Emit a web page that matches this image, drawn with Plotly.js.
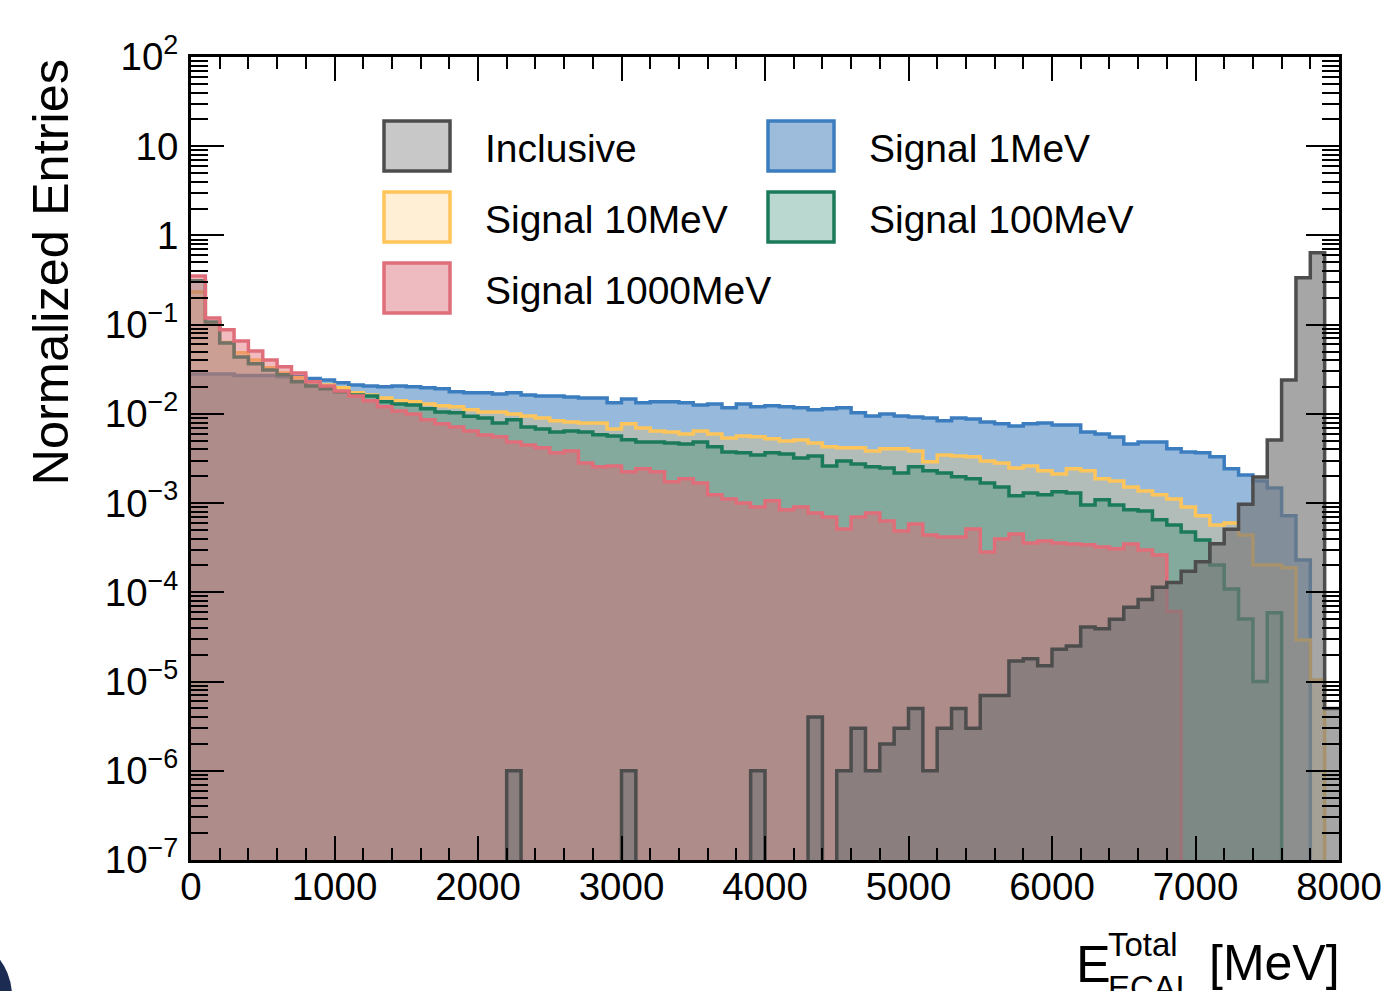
<!DOCTYPE html>
<html><head><meta charset="utf-8">
<script src="https://cdn.plot.ly/plotly-3.0.1.min.js"></script>
<style>html,body{margin:0;padding:0;background:#fff}#chart{width:1388px;height:991px}</style>
</head><body><div id="chart"></div>
<script>
// ---- data (normalized entries per 100 MeV bin, 0..8000 MeV) ----
const binWidth = 100;
const nBins = 80;

const inclusive = [
 0,0,0,0,0,0,0,0,0,0,
 0,0,0,0,0,0,0,0,0,0,
 0,0,1e-6,0,0,0,0,0,0,0,
 1e-6,0,0,0,0,0,0,0,0,1e-6,
 0,0,0,4e-6,0,1e-6,3e-6,1e-6,2e-6,3e-6,
 5e-6,1e-6,3e-6,5e-6,3e-6,7e-6,7e-6,1.7e-5,1.8e-5,1.5e-5,
 2.3e-5,2.5e-5,4.1e-5,3.9e-5,5.0e-5,6.8e-5,8.3e-5,1.14e-4,1.29e-4,1.72e-4,
 2.2e-4,3.5e-4,5.1e-4,9.7e-4,1.96e-3,5.1e-3,2.4e-2,0.336,0.64,5e-6
];
const signal1MeV = [
 0.028,0.028,0.028,0.027,0.027,0.027,0.026,0.026,0.025,0.024,
 0.0223,0.0211,0.0206,0.0201,0.0206,0.0201,0.0196,0.0191,0.0177,0.0172,
 0.0172,0.0167,0.0172,0.0163,0.0159,0.0159,0.0155,0.0151,0.0151,0.0133,
 0.0147,0.0133,0.0137,0.0137,0.0133,0.0126,0.0129,0.0117,0.0129,0.0120,
 0.0123,0.0120,0.0117,0.0111,0.0114,0.0117,0.0103,0.0095,0.0100,0.0095,
 0.00925,0.00902,0.00836,0.00902,0.00879,0.00813,0.00773,0.00733,0.00773,0.00793,
 0.00753,0.00753,0.00628,0.00597,0.00552,0.00461,0.00485,0.00485,0.00406,0.00375,
 0.00366,0.00330,0.00242,0.00207,0.00177,0.00148,0.00072,0.000231,0,0
];
const signal10MeV = [
 0.233,0.105,0.063,0.0483,0.0403,0.0328,0.0288,0.0254,0.0229,0.0211,
 0.0196,0.0172,0.0163,0.0151,0.0140,0.0137,0.0129,0.0123,0.0120,0.0111,
 0.0105,0.0105,0.0100,0.0095,0.00902,0.00836,0.00813,0.00793,0.00793,0.00679,
 0.00773,0.00697,0.00644,0.00628,0.00597,0.00644,0.00597,0.00538,0.00566,0.00553,
 0.00525,0.00498,0.00511,0.00473,0.00427,0.00416,0.00416,0.00385,0.00406,0.00406,
 0.00385,0.00290,0.00347,0.00338,0.00330,0.00297,0.00282,0.00248,0.00261,0.00230,
 0.00212,0.00242,0.00230,0.00187,0.00177,0.00152,0.00137,0.00124,0.00111,0.000906,
 0.00072,0.00057,0.00060,0.00044,0.000203,0.000203,0.000188,2.92e-5,1.04e-5,0
];
const signal100MeV = [
 0.31,0.107,0.0625,0.0435,0.0364,0.0311,0.0274,0.0229,0.0206,0.0191,
 0.0177,0.0163,0.0159,0.0137,0.0129,0.0126,0.0114,0.0105,0.0103,0.0094,
 0.00902,0.00793,0.00857,0.00715,0.00679,0.00628,0.00644,0.00628,0.00582,0.00566,
 0.00512,0.00485,0.00485,0.00473,0.00461,0.00485,0.00427,0.00375,0.00366,0.00347,
 0.00366,0.00356,0.00321,0.00338,0.00261,0.00297,0.00275,0.00255,0.00248,0.00218,
 0.00255,0.00230,0.00218,0.00197,0.00187,0.00168,0.00152,0.00121,0.00130,0.00124,
 0.00134,0.00130,0.000955,0.00109,0.000955,0.00084,0.000818,0.000649,0.00057,0.000475,
 0.000386,0.000203,0.000109,5.04e-5,1.0e-5,5.9e-5,0,0,0,0
];
const signal1000MeV = [
 0.352,0.119,0.0875,0.0658,0.0508,0.0403,0.0337,0.0288,0.0229,0.0206,
 0.0181,0.0159,0.0140,0.0120,0.0108,0.0100,0.00857,0.00773,0.00715,0.00644,
 0.00579,0.00553,0.00485,0.00449,0.00416,0.00366,0.00385,0.00282,0.00255,0.00261,
 0.00224,0.00242,0.00224,0.00173,0.00187,0.00168,0.00124,0.00111,0.00100,0.000906,
 0.00106,0.00084,0.000906,0.000776,0.00070,0.000514,0.00070,0.000776,0.000631,0.000488,
 0.000585,0.00044,0.000418,0.000418,0.000514,0.000284,0.000397,0.000452,0.000358,0.000377,
 0.000358,0.000349,0.000341,0.000323,0.000307,0.000349,0.000299,0.000262,6.1e-5,0,
 0,0,0,0,0,0,0,0,0,0
];

const seriesNames = ['Inclusive','Signal 1MeV','Signal 10MeV','Signal 100MeV','Signal 1000MeV'];
const xTickVals = [0,1000,2000,3000,4000,5000,6000,7000,8000];
const xTickText = ['0','1000','2000','3000','4000','5000','6000','7000','8000'];
const yTickVals = [1e-7,1e-6,1e-5,1e-4,1e-3,1e-2,1e-1,1,10,100];
const yTickText = ['10<sup>\u22127</sup>','10<sup>\u22126</sup>','10<sup>\u22125</sup>','10<sup>\u22124</sup>','10<sup>\u22123</sup>','10<sup>\u22122</sup>','10<sup>\u22121</sup>','1','10','10<sup>2</sup>'];

// ---- styles ----
const styles = {
  'Inclusive':      {line:'#4d4d4d', fill:'rgba(120,120,120,0.66)', legFill:'#c8c8c8'},
  'Signal 1MeV':    {line:'#3b7dbf', fill:'rgba(63,127,191,0.54)',  legFill:'#9dbcdc'},
  'Signal 10MeV':   {line:'#ffc55a', fill:'rgba(255,196,87,0.26)',  legFill:'#ffefd5'},
  'Signal 100MeV':  {line:'#1b7a5b', fill:'rgba(27,122,91,0.30)',   legFill:'#bad7d0'},
  'Signal 1000MeV': {line:'#e06e7a', fill:'rgba(225,105,115,0.45)', legFill:'#eebbc0'}
};
const dataByName = {
  'Inclusive': inclusive, 'Signal 1MeV': signal1MeV, 'Signal 10MeV': signal10MeV,
  'Signal 100MeV': signal100MeV, 'Signal 1000MeV': signal1000MeV
};

const edges = [];
for (let i = 0; i <= nBins; i++) edges.push(i * binWidth);
const EMPTY = 1e-12; // empty bins drawn below the axis floor
function stepY(vals){ const y = vals.map(v => v > 0 ? v : EMPTY); y.push(y[y.length-1]); return y; }

const drawOrder = ['Signal 1MeV','Signal 10MeV','Signal 100MeV','Signal 1000MeV','Inclusive'];
const traces = drawOrder.map(n => ({
  type:'scatter', mode:'lines', name:n, x:edges, y:stepY(dataByName[n]),
  line:{shape:'hv', color:styles[n].line, width:3.5},
  fill:'tozeroy', fillcolor:styles[n].fill, hoverinfo:'skip'
}));

// ---- manual legend ----
const W = 1148, H = 803, L = 191, T = 57;
const px = v => (v - L) / W;
const py = v => (T + H - v) / H;
const legendPos = [
  {n:'Inclusive', x:384, y:121}, {n:'Signal 1MeV', x:768, y:121},
  {n:'Signal 10MeV', x:384, y:192}, {n:'Signal 100MeV', x:768, y:192},
  {n:'Signal 1000MeV', x:384, y:263}
];
const shapes = [];
const annotations = [];
legendPos.forEach(p => {
  shapes.push({type:'rect', xref:'paper', yref:'paper', x0:px(p.x), x1:px(p.x+66), y0:py(p.y+50), y1:py(p.y),
    fillcolor:styles[p.n].legFill, line:{color:styles[p.n].line, width:3.5}, layer:'above'});
  annotations.push({text:p.n, xref:'paper', yref:'paper', x:px(p.x+99), y:py(p.y+27), xanchor:'left', yanchor:'middle',
    showarrow:false, font:{size:39, color:'black'}});
});
// corner decoration
shapes.push({type:'circle', xref:'paper', yref:'paper', x0:px(-110), x1:px(12), y0:py(1057), y1:py(935),
  fillcolor:'#1b2b52', line:{width:0}, layer:'above'});

// axis titles
annotations.push({text:'Normalized Entries', xref:'paper', yref:'paper', x:px(50), y:1, xanchor:'center', yanchor:'top',
  textangle:-90, showarrow:false, font:{size:50.5}});
annotations.push({text:'E', xref:'paper', yref:'paper', x:px(1074), y:py(964), xanchor:'left', yanchor:'middle', showarrow:false, font:{size:52}});
annotations.push({text:'Total', xref:'paper', yref:'paper', x:px(1106), y:py(944), xanchor:'left', yanchor:'middle', showarrow:false, font:{size:33}});
annotations.push({text:'ECAL', xref:'paper', yref:'paper', x:px(1106), y:py(987), xanchor:'left', yanchor:'middle', showarrow:false, font:{size:33}});
annotations.push({text:'[MeV]', xref:'paper', yref:'paper', x:px(1207), y:py(963), xanchor:'left', yanchor:'middle', showarrow:false, font:{size:50}});

const layout = {
  width:1388, height:991,
  margin:{l:191, r:49, t:57, b:131, pad:0},
  paper_bgcolor:'white', plot_bgcolor:'white', showlegend:false,
  font:{family:'Liberation Sans, Arial, sans-serif', color:'black'},
  xaxis:{range:[0,8000], tickmode:'array', tickvals:xTickVals, ticktext:xTickText,
    ticks:'inside', ticklen:24, tickwidth:2, tickcolor:'black',
    showline:true, linewidth:3, linecolor:'black', mirror:'allticks',
    showgrid:false, zeroline:false, tickfont:{size:38.5}, ticklabelstandoff:-9,
    minor:{dtick:200, ticks:'inside', ticklen:12, tickwidth:2, tickcolor:'black', showgrid:false}},
  yaxis:{type:'log', range:[-7,2], tickmode:'array', tickvals:yTickVals, ticktext:yTickText,
    ticks:'inside', ticklen:33, tickwidth:2, tickcolor:'black',
    showline:true, linewidth:3, linecolor:'black', mirror:'allticks',
    showgrid:false, zeroline:false, tickfont:{size:38.5}, ticklabelstandoff:2,
    minor:{dtick:'D1', ticks:'inside', ticklen:17, tickwidth:2, tickcolor:'black', showgrid:false}},
  shapes:shapes, annotations:annotations
};

Plotly.newPlot('chart', traces, layout, {staticPlot:true, displayModeBar:false});
</script></body></html>
